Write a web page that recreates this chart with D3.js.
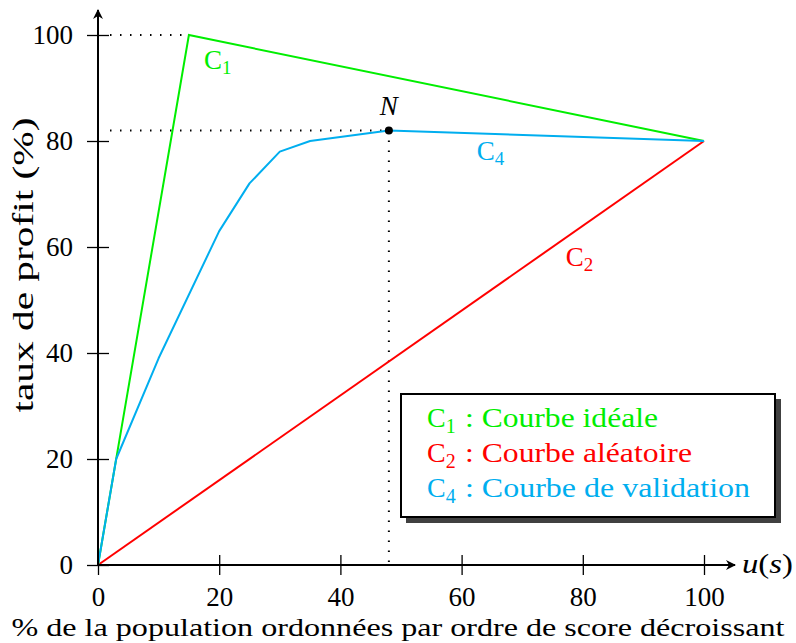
<!DOCTYPE html>
<html><head><meta charset="utf-8">
<script src="https://cdn.jsdelivr.net/npm/d3@7/dist/d3.min.js"></script>
<style>body{margin:0;background:#fff}</style>
</head><body><svg id="c" width="796" height="643"></svg>
<script>
const xTicks = [0,20,40,60,80,100];
const yTicks = [0,20,40,60,80,100];
const c1 = [[0,0],[15,100],[100,80]];
const c2 = [[0,0],[100,80]];
const c4 = [[0,0],[3,20],[10,39],[20,63],[25,72],[30,78],[35,80],[48,82],[100,80]];
const pointN = [48,82];
const legendItems = [
  {sub:"1", text:": Courbe idéale", color:"#00ee00", len:193},
  {sub:"2", text:": Courbe aléatoire", color:"#ff0000", len:227},
  {sub:"4", text:": Courbe de validation", color:"#00aeef", len:285}
];
const FONT = "'Liberation Serif', serif";
const svg = d3.select("#c");
const x = d3.scaleLinear().domain([0,100]).range([98,704]);
const y = d3.scaleLinear().domain([0,100]).range([565,35]);

// axes ticks
const gx = svg.append("g").attr("transform","translate(0,565)")
  .call(d3.axisBottom(x).tickValues(xTicks).tickSize(10).tickPadding(12));
gx.select(".domain").remove();
gx.selectAll(".tick line").attr("y1",-10).attr("y2",10).attr("stroke","#000").attr("stroke-width",1.3);
gx.selectAll(".tick text").style("font-family",FONT).style("font-size","27px").attr("fill","#000").attr("dy","0.71em");
const gy = svg.append("g").attr("transform","translate(98,0)")
  .call(d3.axisLeft(y).tickValues(yTicks).tickSize(10).tickPadding(15));
gy.select(".domain").remove();
gy.selectAll(".tick line").attr("x1",-11).attr("x2",11).attr("stroke","#000").attr("stroke-width",1.3);
gy.selectAll(".tick text").style("font-family",FONT).style("font-size","27px").attr("fill","#000");

// dotted guides
const dot = (x1,y1,x2,y2)=>svg.append("line").attr("x1",x1).attr("y1",y1).attr("x2",x2).attr("y2",y2)
  .attr("stroke","#000").attr("stroke-width",2).attr("stroke-dasharray","1.5,8.5").attr("stroke-linecap","butt");
dot(x(0)+12,y(100),x(15),y(100));
dot(x(0)+12,y(pointN[1]),x(pointN[0]),y(pointN[1]));
dot(x(pointN[0]),y(pointN[1]),x(pointN[0]),y(0));

// curves
const line = d3.line().x(d=>x(d[0])).y(d=>y(d[1]));
svg.append("path").attr("d",line(c2)).attr("fill","none").attr("stroke","#ff0000").attr("stroke-width",2);
svg.append("path").attr("d",line(c1)).attr("fill","none").attr("stroke","#00ee00").attr("stroke-width",2);
svg.append("path").attr("d",line(c4)).attr("fill","none").attr("stroke","#00aeef").attr("stroke-width",2).attr("stroke-linejoin","round");

// axis lines with arrows
svg.append("defs").append("marker").attr("id","ar").attr("viewBox","0 0 10 10").attr("refX",9).attr("refY",5)
  .attr("markerWidth",10).attr("markerHeight",10).attr("markerUnits","userSpaceOnUse").attr("orient","auto")
  .append("path").attr("d","M0,0 L10,5 L0,10 L3,5 Z").attr("fill","#000");
svg.append("line").attr("x1",x(0)).attr("y1",y(0)).attr("x2",735).attr("y2",y(0)).attr("stroke","#000").attr("stroke-width",2).attr("marker-end","url(#ar)");
svg.append("line").attr("x1",x(0)).attr("y1",y(0)).attr("x2",x(0)).attr("y2",10).attr("stroke","#000").attr("stroke-width",2).attr("marker-end","url(#ar)");

// point N
svg.append("circle").attr("cx",x(pointN[0])).attr("cy",y(pointN[1])).attr("r",4).attr("fill","#000");
svg.append("text").attr("x",x(pointN[0])).attr("y",y(pointN[1])-15).attr("text-anchor","middle")
  .style("font-family",FONT).style("font-size","27px").style("font-style","italic").text("N");

// curve labels
function cLabel(xp,yp,sub,color){
  const t=svg.append("text").attr("x",xp).attr("y",yp).attr("fill",color).style("font-family",FONT).style("font-size","27px");
  t.append("tspan").text("C");
  t.append("tspan").style("font-size","19px").attr("dy",5).text(sub);
  return t;
}
cLabel(x(17.5),y(93.5),"1","#00ee00");
cLabel(x(62.5),y(76.5),"4","#00aeef");
cLabel(x(77.2),y(56.4),"2","#ff0000");

// u(s)
const us = svg.append("text").attr("x",742).attr("y",573).style("font-family",FONT).style("font-size","28px")
  .attr("textLength",51).attr("lengthAdjust","spacingAndGlyphs");
us.append("tspan").style("font-style","italic").text("u");
us.append("tspan").text("(");
us.append("tspan").style("font-style","italic").text("s");
us.append("tspan").text(")");

// axis titles
svg.append("text").attr("transform","translate(33,265) rotate(-90)").attr("text-anchor","middle")
  .style("font-family",FONT).style("font-size","30px").attr("textLength",295).attr("lengthAdjust","spacingAndGlyphs").text("taux de profit (%)");
svg.append("text").attr("x",398).attr("y",636).attr("text-anchor","middle")
  .style("font-family",FONT).style("font-size","26px").attr("textLength",773).attr("lengthAdjust","spacingAndGlyphs")
  .text("% de la population ordonnées par ordre de score décroissant");

// legend
const lg = svg.append("g");
lg.append("rect").attr("x",406).attr("y",399).attr("width",375).attr("height",124).attr("fill","#404040");
lg.append("rect").attr("x",401).attr("y",394).attr("width",374).attr("height",123).attr("fill","#fff").attr("stroke","#000").attr("stroke-width",2);
legendItems.forEach((d,i)=>{
  const by = 427+i*35;
  const t = lg.append("text").attr("x",427).attr("y",by).attr("fill",d.color).style("font-family",FONT).style("font-size","28px");
  t.append("tspan").text("C");
  t.append("tspan").style("font-size","20px").attr("dy",6).text(d.sub);
  lg.append("text").attr("x",465).attr("y",by).attr("fill",d.color).style("font-family",FONT).style("font-size","28px")
    .attr("textLength",d.len).attr("lengthAdjust","spacingAndGlyphs").text(d.text);
});
</script></body></html>
